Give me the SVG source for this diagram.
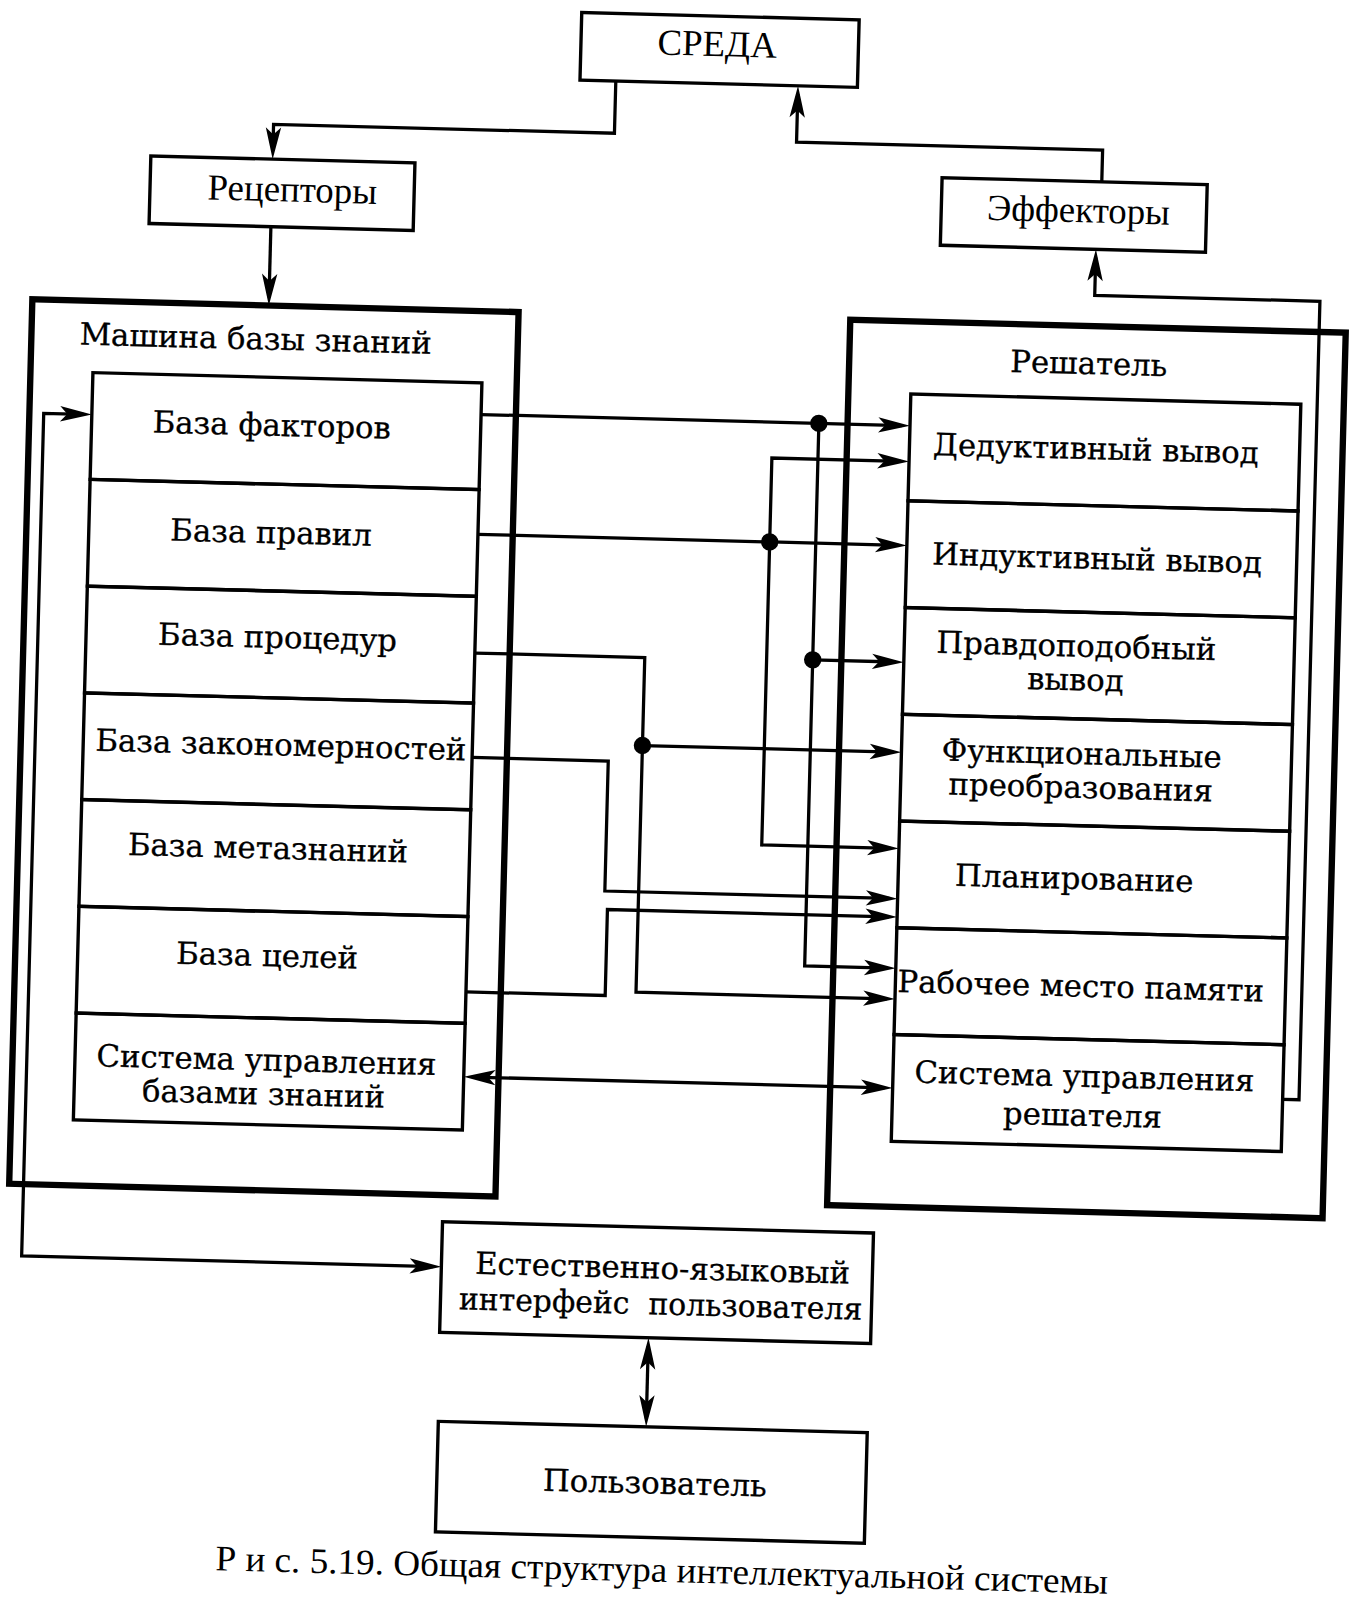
<svg xmlns="http://www.w3.org/2000/svg" width="1358" height="1602" viewBox="0 0 1358 1602">
<defs>
<style>
.bx{fill:none;stroke:#000;stroke-width:3.3}
.big{fill:none;stroke:#000;stroke-width:6.2}
.ln{fill:none;stroke:#000;stroke-width:3.2}
.t{font-family:"DejaVu Serif","Liberation Serif",serif;font-size:30px;fill:#000;stroke:#000;stroke-width:0.3;text-anchor:middle}
.s{font-family:"Liberation Serif","DejaVu Serif",serif;font-size:36px;fill:#000;text-anchor:middle}
.cap{font-family:"Liberation Serif","DejaVu Serif",serif;font-size:35px;fill:#000;text-anchor:middle}
</style>
<marker id="ah" viewBox="-33 -9 36 18" refX="-8" refY="0" markerWidth="36" markerHeight="18" markerUnits="userSpaceOnUse" orient="auto-start-reverse">
<path d="M0,0 L-31,-7.5 L-24,0 L-31,7.5 Z" fill="#000"/>
</marker>
</defs>
<rect width="1358" height="1602" fill="#fff"/>
<g transform="scale(1.024) rotate(1.5 663 782)">
<g id="connectors">
<path class="ln" d="M583,81 V132 H250 V158" marker-end="url(#ah)"/>
<path class="ln" d="M250,232 V301" marker-end="url(#ah)"/>
<path class="ln" d="M1060,167 V136 H761 V89" marker-end="url(#ah)"/>
<path class="ln" d="M1260,1058 H1276 V278 H1056 V241" marker-end="url(#ah)"/>
<path class="ln" d="M460,410 H871" marker-end="url(#ah)"/>
<path class="ln" d="M790,410 V940 H871" marker-end="url(#ah)"/>
<path class="ln" d="M790,641 H871" marker-end="url(#ah)"/>
<path class="ln" d="M460,527 H871" marker-end="url(#ah)"/>
<path class="ln" d="M871,445 H745 V823 H871" marker-start="url(#ah)" marker-end="url(#ah)"/>
<path class="ln" d="M460,643 H626 V970 H871" marker-end="url(#ah)"/>
<path class="ln" d="M626,729 H871" marker-end="url(#ah)"/>
<path class="ln" d="M460,745 H593 V872 H871" marker-end="url(#ah)"/>
<path class="ln" d="M460,974 H596 V890 H871" marker-end="url(#ah)"/>
<path class="ln" d="M468,1057 H871" marker-start="url(#ah)" marker-end="url(#ah)"/>
<path class="ln" d="M435,1243 H33 V420 H72" marker-start="url(#ah)" marker-end="url(#ah)"/>
<path class="ln" d="M647,1315 V1386" marker-start="url(#ah)" marker-end="url(#ah)"/>
<circle cx="790" cy="410" r="8.5"/>
<circle cx="790" cy="641" r="8.5"/>
<circle cx="745" cy="527" r="8.5"/>
<circle cx="626" cy="729" r="8.5"/>
</g>
<g id="sreda"><rect class="bx" x="548" y="15" width="271" height="66"/><text class="s" x="681" y="54">СРЕДА</text></g>
<g id="receptors"><rect class="bx" x="131" y="166" width="258" height="66"/><text class="s" x="270" y="207">Рецепторы</text></g>
<g id="effectors"><rect class="bx" x="904" y="167" width="259" height="66"/><text class="s" x="1038" y="207">Эффекторы</text></g>
<g id="kb-machine"><rect class="big" x="19" y="309" width="475" height="864"/><text class="t" x="238" y="352">Машина базы знаний</text></g>
<g id="kb-facts"><rect class="bx" x="80" y="379" width="380" height="104.3"/><text class="t" x="256" y="436">База факторов</text></g>
<g id="kb-rules"><rect class="bx" x="80" y="483.3" width="380" height="104.3"/><text class="t" x="258" y="541">База правил</text></g>
<g id="kb-procs"><rect class="bx" x="80" y="587.6" width="380" height="104.3"/><text class="t" x="267" y="643">База процедур</text></g>
<g id="kb-laws"><rect class="bx" x="80" y="691.9" width="380" height="104.3"/><text class="t" x="273" y="748">База закономерностей</text></g>
<g id="kb-meta"><rect class="bx" x="80" y="796.1" width="380" height="104.3"/><text class="t" x="263" y="849">База метазнаний</text></g>
<g id="kb-goals"><rect class="bx" x="80" y="900.4" width="380" height="104.3"/><text class="t" x="265" y="954">База целей</text></g>
<g id="kb-control"><rect class="bx" x="80" y="1004.7" width="380" height="104.3"/><text class="t" x="267" y="1056">Система управления</text><text class="t" x="265" y="1089">базами знаний</text></g>
<g id="solver"><rect class="big" x="818" y="308" width="484" height="865"/><text class="t" x="1052" y="355">Решатель</text></g>
<g id="s-deductive"><rect class="bx" x="879" y="379" width="381" height="104.3"/><text class="t" x="1061" y="438">Дедуктивный вывод</text></g>
<g id="s-inductive"><rect class="bx" x="879" y="483.3" width="381" height="104.3"/><text class="t" x="1065" y="545">Индуктивный вывод</text></g>
<g id="s-plausible"><rect class="bx" x="879" y="587.6" width="381" height="104.3"/><text class="t" x="1047" y="631">Правдоподобный</text><text class="t" x="1047" y="664">вывод</text></g>
<g id="s-functional"><rect class="bx" x="879" y="691.9" width="381" height="104.3"/><text class="t" x="1055" y="736">Функциональные</text><text class="t" x="1055" y="769">преобразования</text></g>
<g id="s-planning"><rect class="bx" x="879" y="796.1" width="381" height="104.3"/><text class="t" x="1051" y="858">Планирование</text></g>
<g id="s-memory"><rect class="bx" x="879" y="900.4" width="381" height="104.3"/><text class="t" x="1060" y="963">Рабочее место памяти</text></g>
<g id="s-control"><rect class="bx" x="879" y="1004.7" width="381" height="104.3"/><text class="t" x="1066" y="1051">Система управления</text><text class="t" x="1065" y="1089">решателя</text></g>
<g id="interface"><rect class="bx" x="443" y="1199" width="421" height="108"/><text class="t" x="659" y="1249">Естественно-языковый</text><text class="t" x="658" y="1284" xml:space="preserve" textLength="394" lengthAdjust="spacingAndGlyphs">интерфейс  пользователя</text></g>
<g id="user"><rect class="bx" x="444" y="1394" width="419" height="108"/><text class="t" x="657" y="1459">Пользователь</text></g>
<text class="cap" x="666" y="1545" textLength="872" lengthAdjust="spacingAndGlyphs">Р и с. 5.19. Общая структура интеллектуальной системы</text>
</g>
</svg>
